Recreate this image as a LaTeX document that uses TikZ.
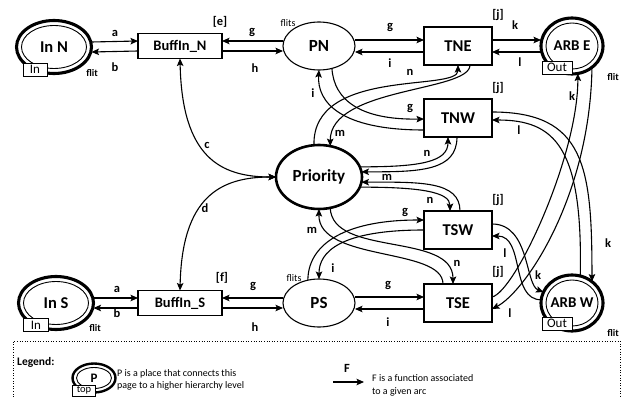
\documentclass[tikz,border=0pt]{standalone}
\usepackage{fontspec}
\setmainfont{Carlito}
\usetikzlibrary{arrows.meta,shapes.geometric,calc}
\begin{document}
\begin{tikzpicture}[x=1pt,y=1pt,
 >={Stealth[length=7.5pt,width=6.5pt,inset=1.5pt]},
 arc/.style={->,line width=1.1pt},
 biarc/.style={<->,line width=1.1pt},
 trans/.style={draw,line width=1.1pt,minimum width=68pt,minimum height=38pt,inner sep=0pt,outer sep=0pt,font=\fontsize{16.5}{16}\selectfont\bfseries},
 buff/.style={trans,minimum width=84pt,minimum height=25pt,font=\fontsize{14.5}{14}\selectfont\bfseries},
 place/.style={ellipse,draw,line width=1.1pt,minimum width=72pt,minimum height=48pt,inner sep=0pt,outer sep=0pt,font=\fontsize{17}{16}\selectfont\bfseries},
 port/.style={ellipse,draw,line width=3.1pt,inner sep=0pt,outer sep=0pt,font=\fontsize{16.5}{16}\selectfont\bfseries},
 portin/.style={line width=0.9pt},
 tag/.style={draw,fill=white,line width=0.8pt,inner sep=0pt,outer sep=0pt,minimum height=13pt,font=\fontsize{13}{13}\selectfont},
 lab/.style={inner sep=0pt,font=\fontsize{12.5}{12}\selectfont\bfseries},
 small/.style={inner sep=0pt,font=\fontsize{10}{10}\selectfont},
 smallb/.style={inner sep=0pt,font=\fontsize{10}{10}\selectfont\bfseries},
 legtext/.style={inner sep=0pt,align=left,anchor=west,font=\fontsize{10}{12}\selectfont},
]
\useasboundingbox (0,0) rectangle (622,397);

% ---------- top row
\node[port,minimum width=75pt,minimum height=53pt] (InN) at (54,350) {In N};
\draw[portin] (InN.center) ellipse[x radius=32.5,y radius=21.5];
\node[tag,minimum width=24pt] (InNt) at (35,327.5) {In};
\node[smallb] (InNf) at (92,324) {flit};
\node[buff] (BufN) at (180,351) {BuffIn\_N};
\node[lab] (e) at (220,375) {[e]};
\node[place] (PN) at (319,351) {PN};
\node[small] (PNf) at (288,374) {flits};
\node[trans] (TNE) at (458,351) {TNE};
\node[lab] (jNE) at (498,382) {[j]};
\node[port,minimum width=62pt,minimum height=56pt,font=\fontsize{15}{15}\selectfont\bfseries] (ARBE) at (572,351) {ARB E};
\draw[portin] (ARBE.center) ellipse[x radius=26,y radius=23];
\node[tag,minimum width=30pt] (ARBEt) at (557,329.5) {Out};
\node[smallb] (ARBEf) at (613,320) {flit};

% ---------- middle
\node[trans] (TNW) at (458,279) {TNW};
\node[lab] (jNW) at (498,309) {[j]};
\node[place,line width=2.6pt,minimum width=86pt,minimum height=64pt] (Pri) at (319,220) {Priority};
\node[trans] (TSW) at (458,167) {TSW};
\node[lab] (jSW) at (498,197) {[j]};

% ---------- bottom row
\node[port,minimum width=75pt,minimum height=53pt] (InS) at (56,94) {In S};
\draw[portin] (InS.center) ellipse[x radius=32.5,y radius=21.5];
\node[tag,minimum width=25pt] (InSt) at (36,72) {In};
\node[smallb] (InSf) at (95,69) {flit};
\node[buff] (BufS) at (180,94) {BuffIn\_S};
\node[lab] (f) at (222,119) {[f]};
\node[place] (PS) at (319,94) {PS};
\node[small] (PSf) at (294,119) {flits};
\node[trans] (TSE) at (458,94) {TSE};
\node[lab] (jSE) at (498,125) {[j]};
\node[port,minimum width=62pt,minimum height=56pt,font=\fontsize{15}{15}\selectfont\bfseries] (ARBW) at (572,94) {ARB W};
\draw[portin] (ARBW.center) ellipse[x radius=26,y radius=23];
\node[tag,minimum width=30pt] (ARBWt) at (557,73.5) {Out};
\node[smallb] (ARBWf) at (613,64) {flit};

% ---------- top row arcs
\draw[arc] ([yshift=5pt]InN.east) -- ([yshift=5pt]BufN.west);
\draw[arc] ([yshift=-5pt]BufN.west) -- ([yshift=-5pt]InN.east);
\draw[arc] ([yshift=5pt]PN.west) -- ([yshift=5pt]BufN.east);
\draw[arc] ([yshift=-5pt]BufN.east) -- ([yshift=-5pt]PN.west);
\draw[arc] ([yshift=6pt]PN.east) -- ([yshift=6pt]TNE.west);
\draw[arc] ([yshift=-6pt]TNE.west) -- ([yshift=-6pt]PN.east);
\draw[arc] ([yshift=6pt]TNE.east) -- ([yshift=6pt]ARBE.west);
\draw[arc] ([yshift=-6pt]ARBE.west) -- ([yshift=-6pt]TNE.east);
\node[lab] (la1) at (115,364) {a};
\node[lab] (lb1) at (115,330) {b};
\node[lab] (lg1) at (252,365) {g};
\node[lab] (lh1) at (255,329) {h};
\node[lab] (lg2) at (390,370) {g};
\node[lab] (li2) at (390,334) {i};
\node[lab] (lk1) at (515,372) {k};
\node[lab] (ll1) at (520,335) {l};

% ---------- bottom row arcs
\draw[arc] ([yshift=5pt]InS.east) -- ([yshift=5pt]BufS.west);
\draw[arc] ([yshift=-5pt]BufS.west) -- ([yshift=-5pt]InS.east);
\draw[arc] ([yshift=5pt]PS.west) -- ([yshift=5pt]BufS.east);
\draw[arc] ([yshift=-5pt]BufS.east) -- ([yshift=-5pt]PS.west);
\draw[arc] ([yshift=6pt]PS.east) -- ([yshift=6pt]TSE.west);
\draw[arc] ([yshift=-6pt]TSE.west) -- ([yshift=-6pt]PS.east);
\node[lab] (la2) at (117,108) {a};
\node[lab] (lb2) at (117,84) {b};
\node[lab] (lg3) at (253,111) {g};
\node[lab] (lh2) at (255,70) {h};
\node[lab] (lg4) at (388,112) {g};
\node[lab] (li4) at (388,75) {i};

% ---------- buffers to priority
\draw[biarc] (BufN.south) .. controls (182,240) and (220,220) .. (Pri.west);
\draw[biarc] (BufS.north) .. controls (182,200) and (220,220) .. (Pri.west);
\node[lab] (lc) at (207,252) {c};
\node[lab] (ld) at (205,189) {d};

% ---------- priority <-> TNE
\draw[arc] (Pri.99) .. controls (312,330) and (458,305) .. (TNE.south);
\draw[arc] ([xshift=12pt]TNE.south) .. controls (470,305) and (330,310) .. (Pri.70);
\node[lab] (ln1) at (410,325) {n};
\node[lab] (lm1) at (340,264) {m};

% ---------- PN <-> TNW
\draw[arc] (PN.-60) .. controls (334,297) and (360,277) .. ([yshift=-1pt]TNW.west);
\draw[arc] ([yshift=-12pt]TNW.west) .. controls (340,267) and (317,295) .. (PN.south);
\node[lab] (li1) at (313,304) {i};
\node[lab] (lg5) at (410,289) {g};

% ---------- priority <-> TNW
\draw[arc] (Pri.14) .. controls (420,230) and (448,235) .. ([xshift=-10pt]TNW.south);
\draw[arc] ([xshift=-1pt]TNW.south) .. controls (457,226) and (420,225) .. (Pri.7);
\node[lab] (ln2) at (427,244) {n};
\node[lab] (lm2) at (387,220) {m};

% ---------- priority <-> TSW
\draw[arc] (Pri.-14) .. controls (420,210) and (450,205) .. ([xshift=-8pt]TSW.north);
\draw[arc] ([xshift=2pt]TSW.north) .. controls (460,216) and (420,215) .. (Pri.-7);
\node[lab] (ln3) at (430,197) {n};

% ---------- PS <-> TSW
\draw[arc] (PS.116) .. controls (308,150) and (340,177) .. ([yshift=10pt]TSW.west);
\draw[arc] (TSW.west) .. controls (340,167) and (319,145) .. (PS.north);
\node[lab] (lg6) at (405,185) {g};
\node[lab] (li3) at (333,129) {i};

% ---------- priority <-> TSE
\draw[arc] (Pri.-70) .. controls (332,140) and (453,165) .. ([xshift=-5pt]TSE.north);
\draw[arc] ([xshift=-15pt]TSE.north) .. controls (443,150) and (318,135) .. (Pri.south);
\node[lab] (lm3) at (312,167) {m};
\node[lab] (ln4) at (457,134) {n};

% ---------- right side
\draw[arc] ([yshift=6pt]TNW.east) .. controls (585,285) and (592,230) .. (ARBW.47);
\draw[arc] (ARBW.73) .. controls (583,250) and (555,277) .. ([yshift=-2pt]TNW.east);
\node[lab] (ll2) at (519,267) {l};
\node[lab] (lk2) at (608,154) {k};

\draw[arc] ([yshift=6pt]TSE.east) .. controls (515,105) and (578,240) .. (ARBE.-78);
\draw[arc] (ARBE.-47) .. controls (590,200) and (525,105) .. ([yshift=-6pt]TSE.east);
\node[lab] (lk3) at (572,301) {k};
\node[lab] (ll3) at (510,84) {l};

\draw[arc] ([yshift=6pt]TSW.east) .. controls (530,173) and (525,112) .. (ARBW.159);
\draw[arc] (ARBW.174) .. controls (510,97) and (525,161) .. ([yshift=-6pt]TSW.east);
\node[lab] (ll4) at (505,144) {l};
\node[lab] (lk4) at (538,122) {k};

% ---------- legend
\draw[dotted,line width=0.6pt] (13,-5) -- (13,56) -- (620,56) -- (620,-5);
\node[anchor=west,inner sep=0pt,font=\fontsize{11.5}{12}\selectfont\bfseries] (leg) at (17,35) {Legend:};
\node[port,line width=2.4pt,minimum width=43pt,minimum height=29pt,font=\fontsize{13}{13}\selectfont\bfseries] (LP) at (94,19) {P};
\draw[portin] (LP.center) ellipse[x radius=17.5,y radius=10.5];
\node[tag,minimum width=23pt,minimum height=11pt,font=\fontsize{10.5}{10.5}\selectfont] (LPt) at (84,6.5) {top};
\node[legtext] (LPtext) at (117,17) {P is a place that connects this\\page to a higher hierarchy level};
\coordinate (Fa) at (333,15);
\coordinate (Fb) at (364,15);
\draw[arc] (Fa) -- (Fb);
\node[lab] (F) at (347,29) {F};
\node[legtext,font=\fontsize{10}{13}\selectfont] (Ftext) at (372,12) {F is a function associated\\to a given arc};
\end{tikzpicture}
\end{document}
